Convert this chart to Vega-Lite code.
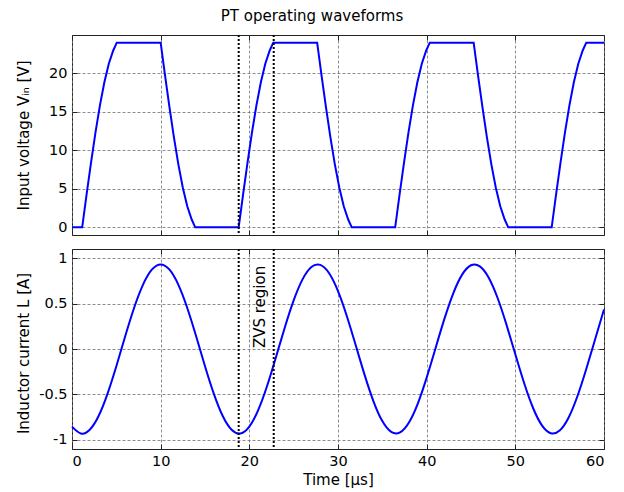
{
  "$schema": "https://vega.github.io/schema/vega-lite/v6.json",
  "background": "white",
  "padding": {"left": 15, "top": 8, "right": 18, "bottom": 5},
  "title": {"text": "PT operating waveforms", "font": "DejaVu Sans", "fontSize": 15, "fontWeight": "normal", "color": "#000", "anchor": "middle", "offset": 10},
  "config": {
    "font": "DejaVu Sans",
    "view": {"stroke": "#222", "strokeWidth": 1},
    "axis": {
      "labelFont": "DejaVu Sans", "labelFontSize": 14.5, "labelColor": "#000",
      "titleFont": "DejaVu Sans", "titleFontSize": 15, "titleFontWeight": "normal", "titleColor": "#000",
      "domain": false, "gridColor": "#6e6e6e", "gridDash": [3, 2], "gridWidth": 0.8,
      "tickColor": "#222", "tickSize": -5, "tickWidth": 1
    }
  },
  "datasets": {
    "vin": [
      {"t": 0, "v": 0}, {"t": 1.15, "v": 0}, {"t": 1.65, "v": 4.3}, {"t": 2.15, "v": 8.45}, {"t": 2.65, "v": 12.35}, {"t": 3.15, "v": 15.85}, {"t": 3.65, "v": 18.85}, {"t": 4.15, "v": 21.26}, {"t": 4.65, "v": 22.99}, {"t": 5.05, "v": 24},
      {"t": 10.0, "v": 24}, {"t": 10.5, "v": 19.7}, {"t": 11.0, "v": 15.55}, {"t": 11.5, "v": 11.65}, {"t": 12.0, "v": 8.15}, {"t": 12.5, "v": 5.15}, {"t": 13.0, "v": 2.74}, {"t": 13.5, "v": 1.01}, {"t": 13.9, "v": 0},
      {"t": 18.8, "v": 0}, {"t": 19.3, "v": 4.3}, {"t": 19.8, "v": 8.45}, {"t": 20.3, "v": 12.35}, {"t": 20.8, "v": 15.85}, {"t": 21.3, "v": 18.85}, {"t": 21.8, "v": 21.26}, {"t": 22.3, "v": 22.99}, {"t": 22.7, "v": 24},
      {"t": 27.65, "v": 24}, {"t": 28.15, "v": 19.7}, {"t": 28.65, "v": 15.55}, {"t": 29.15, "v": 11.65}, {"t": 29.65, "v": 8.15}, {"t": 30.15, "v": 5.15}, {"t": 30.65, "v": 2.74}, {"t": 31.15, "v": 1.01}, {"t": 31.55, "v": 0},
      {"t": 36.45, "v": 0}, {"t": 36.95, "v": 4.3}, {"t": 37.45, "v": 8.45}, {"t": 37.95, "v": 12.35}, {"t": 38.45, "v": 15.85}, {"t": 38.95, "v": 18.85}, {"t": 39.45, "v": 21.26}, {"t": 39.95, "v": 22.99}, {"t": 40.35, "v": 24},
      {"t": 45.3, "v": 24}, {"t": 45.8, "v": 19.7}, {"t": 46.3, "v": 15.55}, {"t": 46.8, "v": 11.65}, {"t": 47.3, "v": 8.15}, {"t": 47.8, "v": 5.15}, {"t": 48.3, "v": 2.74}, {"t": 48.8, "v": 1.01}, {"t": 49.2, "v": 0},
      {"t": 54.1, "v": 0}, {"t": 54.6, "v": 4.3}, {"t": 55.1, "v": 8.45}, {"t": 55.6, "v": 12.35}, {"t": 56.1, "v": 15.85}, {"t": 56.6, "v": 18.85}, {"t": 57.1, "v": 21.26}, {"t": 57.6, "v": 22.99}, {"t": 58.0, "v": 24},
      {"t": 60, "v": 24}
    ],
    "il": [
      {"t": 0, "i": -0.854}, {"t": 1, "i": -0.929}, {"t": 2, "i": -0.888}, {"t": 3, "i": -0.737}, {"t": 4, "i": -0.493}, {"t": 5, "i": -0.189},
      {"t": 6, "i": 0.14}, {"t": 7, "i": 0.451}, {"t": 8, "i": 0.705}, {"t": 9, "i": 0.872}, {"t": 10, "i": 0.93}, {"t": 11, "i": 0.872},
      {"t": 12, "i": 0.705}, {"t": 13, "i": 0.451}, {"t": 14, "i": 0.14}, {"t": 15, "i": -0.189}, {"t": 16, "i": -0.493}, {"t": 17, "i": -0.737},
      {"t": 18, "i": -0.888}, {"t": 19, "i": -0.929}, {"t": 20, "i": -0.854}, {"t": 21, "i": -0.672}, {"t": 22, "i": -0.407}, {"t": 23, "i": -0.09},
      {"t": 24, "i": 0.237}, {"t": 25, "i": 0.535}, {"t": 26, "i": 0.766}, {"t": 27, "i": 0.902}, {"t": 28, "i": 0.925}, {"t": 29, "i": 0.833},
      {"t": 30, "i": 0.637}, {"t": 31, "i": 0.361}, {"t": 32, "i": 0.041}, {"t": 33, "i": -0.285}, {"t": 34, "i": -0.575}, {"t": 35, "i": -0.793},
      {"t": 36, "i": -0.912}, {"t": 37, "i": -0.918}, {"t": 38, "i": -0.809}, {"t": 39, "i": -0.6}, {"t": 40, "i": -0.315}, {"t": 41, "i": 0.009},
      {"t": 42, "i": 0.331}, {"t": 43, "i": 0.613}, {"t": 44, "i": 0.818}, {"t": 45, "i": 0.921}, {"t": 46, "i": 0.909}, {"t": 47, "i": 0.784},
      {"t": 48, "i": 0.561}, {"t": 49, "i": 0.268}, {"t": 50, "i": -0.058}, {"t": 51, "i": -0.377}, {"t": 52, "i": -0.649}, {"t": 53, "i": -0.84},
      {"t": 54, "i": -0.926}, {"t": 55, "i": -0.897}, {"t": 56, "i": -0.756}, {"t": 57, "i": -0.52}, {"t": 58, "i": -0.22}, {"t": 59, "i": 0.108},
      {"t": 60, "i": 0.435}
    ],
    "zvs": [{"t": 18.8}, {"t": 22.75}],
    "label": [{"t": 21.25, "i": 0.01, "text": "ZVS region"}]
  },
  "spacing": 10,
  "vconcat": [
    {
      "width": 532,
      "height": 200,
      "resolve": {"axis": {"x": "independent", "y": "independent"}},
      "layer": [
        {
          "data": {"name": "vin"},
          "mark": {"type": "line", "color": "#0000ff", "strokeWidth": 2},
          "encoding": {
            "x": {"field": "t", "type": "quantitative", "scale": {"domain": [0, 60], "nice": false},
                  "axis": {"orient": "bottom", "values": [0, 10, 20, 30, 40, 50, 60], "labels": false, "title": null, "grid": true}},
            "y": {"field": "v", "type": "quantitative", "scale": {"domain": [-1, 25], "nice": false, "zero": false},
                  "axis": {"orient": "left", "values": [0, 5, 10, 15, 20], "grid": true, "labelPadding": 10,
                           "title": "Input voltage Vᵢₙ [V]", "titleX": -44, "titleY": 100, "titleAngle": 270, "titleAlign": "center", "titleBaseline": "alphabetic"}}
          }
        },
        {
          "data": {"name": "vin"},
          "mark": {"type": "line", "strokeOpacity": 0},
          "encoding": {
            "x": {"field": "t", "type": "quantitative", "axis": {"orient": "top", "values": [0, 10, 20, 30, 40, 50, 60], "labels": false, "title": null, "grid": false}},
            "y": {"field": "v", "type": "quantitative", "axis": {"orient": "right", "values": [0, 5, 10, 15, 20], "labels": false, "title": null, "grid": false}}
          }
        },
        {
          "data": {"name": "zvs"},
          "mark": {"type": "rule", "color": "#000", "strokeWidth": 2, "strokeDash": [2, 2]},
          "encoding": {"x": {"field": "t", "type": "quantitative", "axis": null}}
        }
      ]
    },
    {
      "width": 532,
      "height": 200,
      "resolve": {"axis": {"x": "independent", "y": "independent"}},
      "layer": [
        {
          "data": {"name": "il"},
          "mark": {"type": "line", "color": "#0000ff", "strokeWidth": 2, "interpolate": "natural"},
          "encoding": {
            "x": {"field": "t", "type": "quantitative", "scale": {"domain": [0, 60], "nice": false},
                  "axis": {"orient": "bottom", "values": [0, 10, 20, 30, 40, 50, 60], "grid": true, "labelPadding": 10, "title": "Time [µs]", "titlePadding": 5}},
            "y": {"field": "i", "type": "quantitative", "scale": {"domain": [-1.1, 1.1], "nice": false, "zero": false},
                  "axis": {"orient": "left", "values": [-1, -0.5, 0, 0.5, 1], "grid": true, "labelPadding": 10,
                           "labelExpr": "replace(format(datum.value, '~g'), '−', '-')",
                           "title": "Inductor current L [A]", "titleX": -44, "titleY": 104, "titleAngle": 270, "titleAlign": "center", "titleBaseline": "alphabetic"}}
          }
        },
        {
          "data": {"name": "il"},
          "mark": {"type": "line", "strokeOpacity": 0},
          "encoding": {
            "x": {"field": "t", "type": "quantitative", "axis": {"orient": "top", "values": [0, 10, 20, 30, 40, 50, 60], "labels": false, "title": null, "grid": false}},
            "y": {"field": "i", "type": "quantitative", "axis": {"orient": "right", "values": [-1, -0.5, 0, 0.5, 1], "labels": false, "title": null, "grid": false}}
          }
        },
        {
          "data": {"name": "zvs"},
          "mark": {"type": "rule", "color": "#000", "strokeWidth": 2, "strokeDash": [2, 2]},
          "encoding": {"x": {"field": "t", "type": "quantitative", "axis": null}}
        },
        {
          "data": {"name": "label"},
          "mark": {"type": "text", "angle": 270, "align": "left", "baseline": "middle", "font": "DejaVu Sans", "fontSize": 15, "color": "#000"},
          "encoding": {
            "x": {"field": "t", "type": "quantitative", "axis": null},
            "y": {"field": "i", "type": "quantitative", "axis": null},
            "text": {"field": "text"}
          }
        }
      ]
    }
  ]
}
